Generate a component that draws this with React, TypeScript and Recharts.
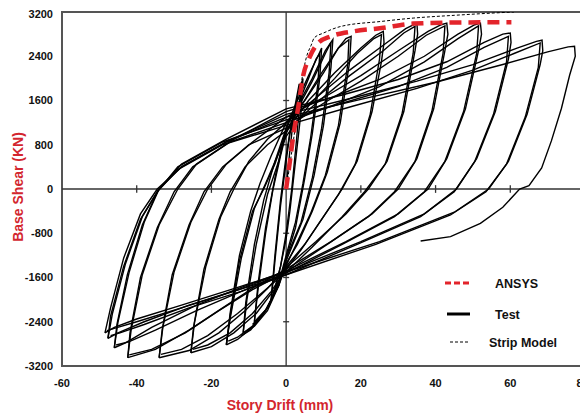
import { Legend, Line, LineChart, ReferenceArea, ReferenceLine, XAxis, YAxis } from "recharts"

// Story drift (mm) / base shear (kN) pairs
const xTicks = [-60, -40, -20, 0, 20, 40, 60, 80]
const yTicks = [-3200, -2400, -1600, -800, 0, 800, 1600, 2400, 3200]

const ansys: [number, number][] = [
  [0, 0], [1, 500], [2, 1000], [3.2, 1460], [4.6, 2060], [6.2, 2370], [8.6, 2640],
  [12, 2760], [18, 2850], [25.5, 2910], [34, 2990], [45, 3010], [60.3, 3015],
]

const stripModel: [number, number][] = [
  [0, 0], [2, 900], [4, 1900], [5.5, 2400], [6.7, 2600], [7.5, 2730], [10, 2820],
  [14.7, 2940], [25.5, 3030], [34, 3090], [45, 3140], [55, 3180], [61, 3200],
]

// test hysteresis, one array per cycle (first and repeated cycle of each amplitude)
const cycle1: [number, number][] = [
  [0, 0], [1, 700], [2, 1300], [3.5, 1800], [4.5, 2000], [4, 1400], [2.5, 500], [1, -400],
  [0, -900], [-1.5, -1400], [-3, -1800], [-4, -2000],
]
const cycle1b: [number, number][] = [
  [-4, -2000], [-3, -1200], [-1.5, -200], [0, 600], [1.2, 1100], [2.5, 1550], [3.5, 1900],
  [3.8, 1700], [2.8, 900], [1.5, 0], [0, -800], [-1.5, -1400], [-3, -1800], [-3.5, -1950],
]
const cycle2: [number, number][] = [
  [-4, -2000], [-3, -1300], [-1.5, -300], [0, 500], [1, 1000], [3, 1500], [6, 2000], [8, 2350],
  [9, 2450], [8.5, 1900], [6.5, 900], [4.5, 100], [2.5, -600], [0, -1200], [-2, -1700],
  [-5, -2150], [-8.5, -2400],
]
const cycle2b: [number, number][] = [
  [-8.5, -2400], [-7.5, -1700], [-5.5, -700], [-3, 200], [-1, 800], [0.5, 1200], [3, 1600],
  [6, 2050], [8.5, 2400], [9.5, 2550], [9, 2000], [7, 1000], [5, 200], [2.5, -700],
  [0, -1250], [-2, -1750], [-5.5, -2200], [-9, -2450],
]
const cycle3: [number, number][] = [
  [-8.5, -2400], [-7.5, -1800], [-5.5, -800], [-3.5, 0], [-1.5, 600], [0, 1000], [3, 1450],
  [7, 1950], [10.5, 2450], [12, 2650], [11.5, 2100], [9.5, 1100], [7, 200], [4, -600],
  [0, -1250], [-2, -1750], [-5, -2200], [-8.5, -2480], [-11.5, -2600],
]
const cycle3b: [number, number][] = [
  [-11.5, -2600], [-10.8, -2050], [-8.5, -1000], [-6, -200], [-3, 500], [0, 1100], [3, 1500],
  [7, 2000], [10.5, 2500], [12.5, 2700], [12, 2200], [10, 1150], [7.5, 250], [4.5, -550],
  [0, -1300], [-2.5, -1800], [-6, -2250], [-9.5, -2550], [-12, -2650],
]
const cycle4: [number, number][] = [
  [-11.5, -2600], [-10.5, -2000], [-8, -1000], [-5, -100], [-2, 500], [0, 1050], [4, 1500],
  [9, 2050], [14, 2550], [16, 2720], [17.4, 2760], [17, 2300], [14.5, 1200], [11, 300],
  [7, -400], [3, -1000], [0, -1350], [-2, -1700], [-5, -2150], [-9, -2500], [-13, -2720],
  [-16, -2820],
]
const cycle4b: [number, number][] = [
  [-16, -2820], [-15, -2250], [-12.5, -1200], [-9.5, -400], [-7, 100], [-4, 600], [0, 1200],
  [5, 1600], [10, 2100], [14, 2550], [16.8, 2700], [16.5, 2250], [14, 1150], [10.5, 250],
  [6.5, -450], [2, -1100], [0, -1380], [-2, -1750], [-5, -2150], [-9, -2480], [-13, -2680],
  [-15.5, -2750],
]
const cycle5: [number, number][] = [
  [-16, -2820], [-15, -2300], [-12.5, -1300], [-9, -400], [-6, 0], [-3, 450], [0, 1050],
  [6, 1600], [13, 2100], [20, 2550], [24, 2780], [26, 2850], [26.2, 2650], [25.5, 2300],
  [23, 1400], [19, 500], [15, 0], [10, -500], [5, -1000], [0, -1400], [-3, -1800],
  [-8, -2250], [-14, -2600], [-20, -2850], [-25.5, -2960],
]
const cycle5b: [number, number][] = [
  [-16, -2800], [-15, -2350], [-12, -1250], [-8.5, -350], [-5.5, 100], [-2, 650], [0, 950],
  [6, 1500], [13, 2000], [19, 2450], [23.5, 2720], [25.5, 2790], [25, 2350], [22.5, 1350],
  [18.5, 450], [14, -100], [9, -600], [4, -1100], [0, -1450], [-4, -1850], [-9, -2250],
  [-15, -2600], [-21, -2820], [-25, -2900],
]
const cycle6: [number, number][] = [
  [-25.5, -2960], [-24.5, -2400], [-21.5, -1400], [-17.5, -500], [-14, 0], [-10, 500],
  [-5, 900], [0, 1200], [8, 1650], [17, 2150], [26, 2600], [32, 2900], [35, 3000],
  [35.2, 2800], [34.5, 2500], [31.5, 1400], [27, 500], [22, 0], [16, -450], [8, -950],
  [0, -1420], [-5, -1800], [-11, -2200], [-18, -2600], [-26, -2920], [-34, -3050],
]
const cycle6b: [number, number][] = [
  [-25.5, -2960], [-24.8, -2500], [-22, -1450], [-18, -550], [-15, -50], [-11, 400],
  [-5, 800], [0, 1050], [8, 1550], [17, 2050], [26, 2500], [31.5, 2820], [34.5, 2940],
  [34, 2450], [31, 1350], [26.5, 450], [21, -50], [15, -500], [7, -1050], [0, -1500],
  [-6, -1850], [-13, -2250], [-21, -2650], [-28, -2900], [-33.5, -2990],
]
const cycle7: [number, number][] = [
  [-34, -3050], [-33, -2500], [-30, -1500], [-25.5, -600], [-21, 0], [-16, 450], [-9, 850],
  [0, 1300], [10, 1650], [20, 2050], [30, 2500], [38, 2850], [41.5, 2970], [43, 3000],
  [43.3, 2800], [42.5, 2500], [39.5, 1450], [35, 550], [30, 0], [23, -450], [12, -950],
  [0, -1450], [-8, -1750], [-17, -2150], [-26, -2550], [-35, -2900], [-42.4, -3050],
]
const cycle7b: [number, number][] = [
  [-34, -3050], [-33.2, -2550], [-30.5, -1550], [-26, -650], [-22, -50], [-17, 400],
  [-10, 800], [0, 1100], [10, 1550], [20, 1950], [30, 2400], [37.5, 2780], [42.5, 2950],
  [42, 2450], [39, 1400], [34.5, 500], [29, -50], [22, -500], [11, -1000], [0, -1500],
  [-9, -1820], [-18, -2200], [-27, -2600], [-36, -2900], [-42, -3000],
]
const cycle8: [number, number][] = [
  [-42.4, -3050], [-41.5, -2550], [-38.5, -1550], [-34, -650], [-29, 0], [-24, 450],
  [-14, 900], [0, 1400], [12, 1650], [25, 1980], [37, 2400], [46, 2800], [50.5, 2970],
  [52, 3000], [52.3, 2800], [51.5, 2500], [48, 1450], [43, 550], [38, 0], [30, -450],
  [16, -950], [0, -1480], [-12, -1780], [-24, -2100], [-36, -2500], [-43, -2780], [-46, -2870],
]
const cycle8b: [number, number][] = [
  [-42.4, -3050], [-41.8, -2600], [-39, -1600], [-34.5, -700], [-30, -50], [-25, 400],
  [-15, 850], [0, 1200], [12, 1500], [25, 1850], [37, 2300], [46, 2720], [51.5, 2950],
  [51, 2450], [47.5, 1400], [42.5, 500], [37, -50], [29, -500], [15, -1000], [0, -1520],
  [-12, -1850], [-24, -2200], [-35, -2550], [-42, -2760], [-45.5, -2820],
]
const cycle9: [number, number][] = [
  [-46, -2870], [-45, -2400], [-42, -1500], [-38, -600], [-34, 0], [-28, 450], [-16, 900],
  [0, 1450], [15, 1700], [30, 1980], [43, 2300], [53, 2650], [58, 2800], [60, 2820],
  [60.2, 2650], [59.5, 2350], [56, 1400], [51, 550], [45.6, 0], [37, -450], [20, -950],
  [0, -1500], [-12, -1800], [-26, -2100], [-38, -2400], [-45, -2600], [-47.7, -2700],
]
const cycle9b: [number, number][] = [
  [-46, -2870], [-45.3, -2450], [-42.5, -1550], [-38.5, -650], [-34.5, -50], [-29, 400],
  [-17, 850], [0, 1250], [15, 1550], [30, 1850], [43, 2200], [53, 2560], [59.5, 2760],
  [59, 2300], [55.5, 1350], [50.5, 500], [45, -50], [36, -500], [19, -1000], [0, -1550],
  [-12, -1850], [-26, -2150], [-38, -2450], [-44.5, -2600], [-47, -2650],
]
const cycle10: [number, number][] = [
  [-47.7, -2700], [-46.5, -2250], [-43, -1350], [-38.5, -500], [-34, 0], [-28, 400],
  [-16, 850], [0, 1350], [18, 1650], [35, 1950], [50, 2250], [62, 2550], [67, 2670],
  [68.5, 2690], [68.7, 2500], [68, 2250], [64.5, 1350], [59.5, 500], [54.2, 0], [45, -420],
  [25, -950], [0, -1500], [-14, -1800], [-28, -2100], [-40, -2350], [-46, -2500], [-48.5, -2600],
]
const cycle10b: [number, number][] = [
  [-47.7, -2700], [-47, -2300], [-43.5, -1400], [-39, -550], [-34.5, -50], [-29, 350],
  [-17, 800], [0, 1150], [18, 1500], [35, 1820], [50, 2150], [61, 2450], [68, 2640],
  [67.5, 2200], [64, 1300], [59, 450], [53.5, -50], [44, -470], [24, -1000], [0, -1550],
  [-14, -1850], [-28, -2150], [-40, -2400], [-46, -2520], [-48, -2560],
]
const cycle11: [number, number][] = [
  [-48.5, -2600], [-47, -2150], [-43.5, -1250], [-39, -450], [-34.5, 0], [-28, 400],
  [-16, 850], [0, 1300], [20, 1620], [40, 1930], [58, 2250], [70, 2480], [75.5, 2570],
  [77.2, 2580], [77.4, 2400], [75.9, 2060], [73.7, 1460], [71, 870], [68.4, 380], [65, 60],
  [62.5, 0], [58, -330], [52, -620], [44, -860], [36, -940],
]

const testCycles = [
  cycle1, cycle1b, cycle2, cycle2b, cycle3, cycle3b, cycle4, cycle4b, cycle5, cycle5b,
  cycle6, cycle6b, cycle7, cycle7b, cycle8, cycle8b, cycle9, cycle9b, cycle10, cycle10b, cycle11,
]

const toPoints = (pairs: [number, number][]) => pairs.map(([x, y]) => ({ x, y }))

const FONT = "Arial, 'Liberation Sans', sans-serif"
const RED = "#e3242b"
const LABEL_RED = "#d3262e"
const FRAME = "#555"

function LegendBox() {
  return (
    <svg width={140} height={85} style={{ display: "block" }}>
      <line x1={5} y1={13} x2={30} y2={13} stroke={RED} strokeWidth={3} strokeDasharray="6 3" />
      <text x={55} y={17.5} fontFamily={FONT} fontWeight="bold" fontSize={12.5} fill="#111">ANSYS</text>
      <line x1={7} y1={44} x2={30} y2={44} stroke="#000" strokeWidth={3} />
      <text x={55} y={48.5} fontFamily={FONT} fontWeight="bold" fontSize={12.5} fill="#111">Test</text>
      <line x1={10} y1={72} x2={28} y2={72} stroke="#000" strokeWidth={1} strokeDasharray="3 2" />
      <text x={49} y={76.5} fontFamily={FONT} fontWeight="bold" fontSize={12.5} fill="#111">Strip Model</text>
    </svg>
  )
}

export default function App() {
  return (
    <LineChart width={580} height={405} margin={{ top: 4, right: 3, bottom: 0, left: 0 }}>
      <XAxis
        dataKey="x"
        type="number"
        domain={[-60, 80]}
        ticks={xTicks}
        allowDataOverflow
        height={47}
        axisLine={false}
        tickLine={false}
        tickSize={0}
        tickMargin={13}
        tick={{ fontFamily: FONT, fontWeight: "bold", fontSize: 11, fill: "#111" }}
        label={{
          content: () => (
            <text x={272} y={402} textAnchor="middle" fontFamily={FONT} fontWeight="bold" fontSize={14} fill={LABEL_RED}>
              Story Drift (mm)
            </text>
          ),
        }}
      />
      <YAxis
        dataKey="y"
        type="number"
        domain={[-3200, 3200]}
        ticks={yTicks}
        allowDataOverflow
        width={54}
        axisLine={false}
        tickLine={false}
        tickSize={0}
        tickMargin={9}
        tick={{ fontFamily: FONT, fontWeight: "bold", fontSize: 11, fill: "#111" }}
        label={{
          content: () => (
            <text
              x={0}
              y={0}
              transform="translate(15 179) rotate(-90)"
              textAnchor="middle"
              fontFamily={FONT}
              fontWeight="bold"
              fontSize={14}
              fill={LABEL_RED}
            >
              Base Shear (KN)
            </text>
          ),
        }}
      />
      <ReferenceArea x1={-60} x2={80} y1={-3200} y2={3200} fill="none" stroke={FRAME} strokeWidth={2} />
      <ReferenceLine x={0} stroke="#333" strokeWidth={1.3} />
      <ReferenceLine y={0} stroke="#333" strokeWidth={1.3} />
      {yTicks
        .filter((t) => t !== 0 && Math.abs(t) !== 3200)
        .map((t) => (
          <ReferenceLine key={"yt" + t} segment={[{ x: -0.8, y: t }, { x: 0.8, y: t }]} stroke="#333" strokeWidth={1.3} />
        ))}
      {xTicks
        .filter((t) => t !== 0 && t !== -60 && t !== 80)
        .map((t) => (
          <ReferenceLine key={"xt" + t} segment={[{ x: t, y: -70 }, { x: t, y: 70 }]} stroke="#333" strokeWidth={1.3} />
        ))}
      {testCycles.map((c, i) => (
        <Line
          key={"test" + i}
          data={toPoints(c)}
          dataKey="y"
          type="linear"
          stroke="#000"
          strokeWidth={1.4}
          dot={false}
          activeDot={false}
          isAnimationActive={false}
          legendType="none"
        />
      ))}
      <Line
        data={toPoints(stripModel)}
        dataKey="y"
        type="monotone"
        stroke="#000"
        strokeWidth={1}
        strokeDasharray="3 2"
        dot={false}
        activeDot={false}
        isAnimationActive={false}
        name="Strip Model"
      />
      <Line
        data={toPoints(ansys)}
        dataKey="y"
        type="monotone"
        stroke={RED}
        strokeWidth={4.5}
        strokeDasharray="12 7"
        dot={false}
        activeDot={false}
        isAnimationActive={false}
        name="ANSYS"
      />
      <Legend
        layout="vertical"
        align="center"
        verticalAlign="middle"
        content={() => <LegendBox />}
        wrapperStyle={{ position: "absolute", left: 432, top: 262, width: 140 }}
      />
    </LineChart>
  )
}
